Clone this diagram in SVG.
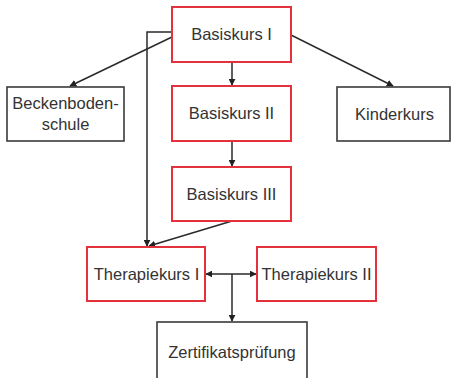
<svg xmlns="http://www.w3.org/2000/svg" width="453" height="378" viewBox="0 0 453 378">
<style>
.red{fill:#fff;stroke:#e3323c;stroke-width:2}
.blk{fill:#fff;stroke:#3a3a3a;stroke-width:1.6}
text{font-family:"Liberation Sans",Arial,sans-serif;font-size:16.5px;fill:#333;text-anchor:middle}
.c{fill:none;stroke:#2a2a2a;stroke-width:1.5}
</style>
<defs>
<marker id="ah" viewBox="0 0 10 10" refX="9" refY="5" markerWidth="7" markerHeight="7" markerUnits="userSpaceOnUse" orient="auto-start-reverse">
<path d="M0,0 L10,5 L0,10 z" fill="#222"/>
</marker>
</defs>
<rect width="453" height="378" fill="#fff"/>
<g id="connectors">
<line class="c" x1="232" y1="62" x2="232" y2="85" marker-end="url(#ah)"/>
<line class="c" x1="232" y1="141" x2="232" y2="166" marker-end="url(#ah)"/>
<line class="c" x1="172" y1="37" x2="70" y2="86" marker-end="url(#ah)"/>
<line class="c" x1="291" y1="35" x2="393" y2="86" marker-end="url(#ah)"/>
<polyline class="c" points="172,32 147,32 147,246" marker-end="url(#ah)"/>
<line class="c" x1="232" y1="221" x2="149" y2="246" marker-end="url(#ah)"/>
<line class="c" x1="206" y1="274" x2="256" y2="274" marker-start="url(#ah)" marker-end="url(#ah)"/>
<line class="c" x1="232" y1="274" x2="232" y2="321" marker-end="url(#ah)"/>
</g>
<g id="basiskurs1"><rect class="red" x="172" y="7" width="119" height="55"/><text x="231.5" y="40">Basiskurs I</text></g>
<g id="beckenboden"><rect class="blk" x="7" y="87" width="117" height="54"/><text x="65.5" y="109">Beckenboden-</text><text x="65.5" y="130">schule</text></g>
<g id="kinderkurs"><rect class="blk" x="337" y="87" width="113" height="54"/><text x="394.5" y="120">Kinderkurs</text></g>
<g id="basiskurs2"><rect class="red" x="172" y="86" width="119" height="55"/><text x="231.5" y="119">Basiskurs II</text></g>
<g id="basiskurs3"><rect class="red" x="172" y="167" width="119" height="54"/><text x="231.5" y="200">Basiskurs III</text></g>
<g id="therapie1"><rect class="red" x="87" y="247" width="118" height="54"/><text x="146.5" y="280">Therapiekurs I</text></g>
<g id="therapie2"><rect class="red" x="257" y="247" width="119" height="54"/><text x="316.5" y="280">Therapiekurs II</text></g>
<g id="zertifikat"><rect class="blk" x="157" y="322" width="150" height="64"/><text x="232" y="358">Zertifikatsprüfung</text></g>
</svg>
